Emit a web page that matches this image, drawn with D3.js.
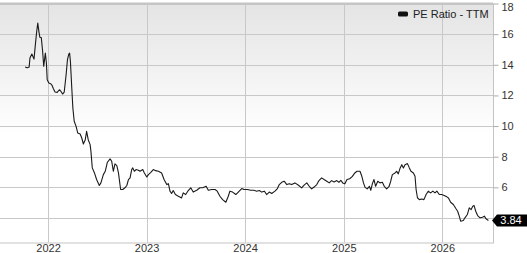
<!DOCTYPE html>
<html>
<head>
<meta charset="utf-8">
<script src="https://cdn.jsdelivr.net/npm/d3@7"></script>
<style>
  body { margin: 0; background: #fff; }
  svg text { font-family: "Liberation Sans", Arial, sans-serif; }
</style>
</head>
<body>
<svg id="chart"></svg>
<script>
// PE Ratio (TTM) series
const dates = [
  "2021-10-08","2021-10-16","2021-10-23","2021-10-26","2021-11-02","2021-11-10","2021-11-15","2021-11-20","2021-11-24","2021-11-29",
  "2021-12-02","2021-12-07","2021-12-12","2021-12-16","2021-12-22","2021-12-26","2021-12-29","2022-01-04","2022-01-11","2022-01-16",
  "2022-01-21","2022-01-27","2022-02-04","2022-02-12","2022-02-18","2022-02-24","2022-03-02","2022-03-09","2022-03-14","2022-03-19",
  "2022-03-22","2022-03-25","2022-03-30","2022-04-03","2022-04-08","2022-04-15","2022-04-21","2022-04-30","2022-05-06","2022-05-12",
  "2022-05-19","2022-05-24","2022-05-30","2022-06-06","2022-06-09","2022-06-14","2022-06-22","2022-06-30","2022-07-10","2022-07-16",
  "2022-07-25","2022-08-01","2022-08-09","2022-08-19","2022-08-25","2022-08-31","2022-09-06","2022-09-13","2022-09-19","2022-09-27",
  "2022-10-05","2022-10-13","2022-10-20","2022-10-26","2022-11-01","2022-11-07","2022-11-11","2022-11-17","2022-11-23","2022-12-02",
  "2022-12-08","2022-12-18","2022-12-24","2023-01-02","2023-01-08","2023-01-17","2023-01-26","2023-02-04","2023-02-14","2023-02-26",
  "2023-03-07","2023-03-17","2023-03-23","2023-03-29","2023-04-04","2023-04-10","2023-04-18","2023-04-29","2023-05-11","2023-05-17",
  "2023-05-26","2023-06-03","2023-06-14","2023-06-23","2023-07-06","2023-07-18","2023-07-28","2023-08-10","2023-08-18","2023-08-31",
  "2023-09-12","2023-09-20","2023-09-30","2023-10-10","2023-10-22","2023-10-31","2023-11-06","2023-11-16","2023-11-28","2023-12-07",
  "2023-12-20","2023-12-28","2024-01-10","2024-01-22","2024-02-03","2024-02-13","2024-02-23","2024-03-03","2024-03-13","2024-03-21",
  "2024-03-31","2024-04-09","2024-04-21","2024-04-30","2024-05-07","2024-05-16","2024-05-25","2024-06-04","2024-06-13","2024-06-22",
  "2024-07-04","2024-07-17","2024-07-29","2024-08-07","2024-08-17","2024-08-26","2024-09-04","2024-09-13","2024-09-23","2024-10-01",
  "2024-10-11","2024-10-20","2024-10-30","2024-11-08","2024-11-17","2024-11-26","2024-12-06","2024-12-14","2024-12-21","2024-12-28",
  "2025-01-05","2025-01-13","2025-01-23","2025-02-02","2025-02-11","2025-02-19","2025-03-02","2025-03-09","2025-03-15","2025-03-21",
  "2025-03-29","2025-04-06","2025-04-11","2025-04-17","2025-04-23","2025-04-29","2025-05-07","2025-05-15","2025-05-24","2025-05-31",
  "2025-06-09","2025-06-18","2025-06-24","2025-06-30","2025-07-10","2025-07-16","2025-07-22","2025-07-29","2025-08-04","2025-08-10",
  "2025-08-16","2025-08-25","2025-09-01","2025-09-07","2025-09-16","2025-09-22","2025-09-26","2025-10-01","2025-10-08","2025-10-17",
  "2025-10-25","2025-11-02","2025-11-10","2025-11-19","2025-11-27","2025-12-05","2025-12-12","2025-12-21","2025-12-30","2026-01-08",
  "2026-01-18","2026-01-24","2026-02-01","2026-02-11","2026-02-21","2026-02-27","2026-03-05","2026-03-10","2026-03-20","2026-03-26",
  "2026-04-04","2026-04-11","2026-04-18","2026-04-24","2026-04-29","2026-05-05","2026-05-12","2026-05-21","2026-05-30","2026-06-06",
  "2026-06-12","2026-06-21"
];
const peValues = [
  13.85,13.8,13.85,14.44,14.7,14.37,15.3,16.17,16.72,16.07,
  15.78,15.78,14.87,13.9,14.77,14.1,13.02,12.81,12.76,12.65,
  12.44,12.22,12.2,12.37,12.26,12.09,12.22,13.35,14.33,14.7,
  14.76,14.2,12.48,11.18,10.31,9.98,9.55,9.48,9.22,8.83,
  9.11,9.66,9.11,8.79,8.35,7.27,6.94,6.51,6.12,6.29,
  6.83,7.05,7.64,7.86,7.7,7.05,7.53,7.42,6.94,5.86,
  5.86,5.97,6.12,6.51,6.62,7.16,7.27,7.05,7.16,7.12,
  7.05,7.16,6.94,6.68,6.83,6.98,7.16,7.09,7.05,6.94,
  6.51,6.18,6.24,5.75,5.6,5.79,5.53,5.42,5.31,5.64,
  5.53,5.75,5.97,5.69,5.81,5.97,5.97,6.07,5.81,5.86,
  5.86,5.75,5.42,5.2,5.03,5.42,5.75,5.69,5.53,5.69,
  5.92,5.86,5.86,5.81,5.81,5.75,5.79,5.69,5.75,5.53,
  5.69,5.6,5.75,5.92,6.18,6.33,6.4,6.18,6.24,6.18,
  6.29,6.14,5.97,6.14,6.29,6.07,5.9,6.02,6.18,6.44,
  6.62,6.51,6.4,6.29,6.44,6.35,6.44,6.33,6.46,6.29,
  6.23,6.51,6.56,6.72,6.94,7.05,7.05,6.72,6.29,6.0,
  5.9,6.07,5.81,6.24,6.51,6.07,6.4,6.29,6.33,6.07,
  5.9,6.07,6.4,6.83,6.94,7.05,6.88,7.27,7.48,7.27,
  7.48,7.55,7.27,7.05,6.94,6.72,5.86,5.32,5.2,5.24,
  5.2,5.53,5.75,5.64,5.75,5.64,5.75,5.53,5.53,5.47,
  5.38,5.31,5.03,4.88,4.6,4.44,4.12,3.79,3.84,4.01,
  4.23,4.66,4.55,4.77,4.81,4.44,4.16,4.01,4.05,4.12,
  3.95,3.84
];
const yTicks = [4, 6, 8, 10, 12, 14, 16, 18];
const xTickYears = [2022, 2023, 2024, 2025, 2026];
const xDomain = ["2021-07-07", "2026-07-08"];
const yDomain = [2.4, 18];
const seriesName = "PE Ratio - TTM";
const lastLabel = "3.84";

const width = 527, height = 253;
const plot = {left: 0, right: 493, top: 3.5, bottom: 242.5};
const parse = d3.timeParse("%Y-%m-%d");

const data = dates.map((d, i) => ({date: parse(d), value: peValues[i]}));

const svg = d3.select("#chart").attr("width", width).attr("height", height);

const x = d3.scaleTime()
    .domain(xDomain.map(parse))
    .range([plot.left, plot.right]);
const y = d3.scaleLinear()
    .domain(yDomain)
    .range([plot.bottom, plot.top]);

// background gradient
const grad = svg.append("defs").append("linearGradient")
    .attr("id", "bg").attr("x1", 0).attr("y1", 0).attr("x2", 0).attr("y2", 1);
grad.append("stop").attr("offset", "0%").attr("stop-color", "#e4e4e4");
grad.append("stop").attr("offset", "55%").attr("stop-color", "#ffffff");
grad.append("stop").attr("offset", "100%").attr("stop-color", "#ffffff");

svg.append("rect")
    .attr("x", plot.left).attr("y", plot.top)
    .attr("width", plot.right - plot.left).attr("height", plot.bottom - plot.top)
    .attr("fill", "url(#bg)");

// gridlines
const grid = svg.append("g").attr("stroke", "#c8c8c8").attr("stroke-width", 1);
grid.selectAll(".hgrid")
    .data(yTicks)
    .join("line")
    .attr("x1", plot.left).attr("x2", plot.right)
    .attr("y1", d => Math.round(y(d)) + 0.5).attr("y2", d => Math.round(y(d)) + 0.5);
grid.selectAll(".vgrid")
    .data(xTickYears)
    .join("line")
    .attr("x1", d => Math.round(x(new Date(d, 0, 1))) + 0.5)
    .attr("x2", d => Math.round(x(new Date(d, 0, 1))) + 0.5)
    .attr("y1", plot.top).attr("y2", plot.bottom);

// frame
svg.append("line")
    .attr("x1", plot.left).attr("x2", plot.right)
    .attr("y1", plot.top).attr("y2", plot.top)
    .attr("stroke", "#c4c4c4").attr("stroke-width", 2);
svg.append("line")
    .attr("x1", plot.left).attr("x2", plot.right)
    .attr("y1", plot.bottom + 0.5).attr("y2", plot.bottom + 0.5)
    .attr("stroke", "#c4c4c4");

const last = data[data.length - 1];

// right y axis (the "4" label sits under the last-value tag, as in the reference)
const yAxis = d3.axisRight(y)
    .tickValues(yTicks)
    .tickSize(5)
    .tickPadding(3)
    .tickFormat(d => Math.abs(y(d) - y(last.value)) < 12 ? "" : d3.format("d")(d));
const yAxisG = svg.append("g")
    .attr("transform", `translate(${plot.right + 0.5},0)`)
    .call(yAxis);
yAxisG.select(".domain").attr("stroke", "#c4c4c4").attr("d", `M0,${plot.top}V${plot.bottom + 1}`);
yAxisG.selectAll(".tick line").attr("stroke", "#aaa");
yAxisG.selectAll(".tick text")
    .attr("fill", "#333")
    .style("font-size", "11px");
// keep the top label inside the picture
yAxisG.selectAll(".tick text")
    .filter(d => d === yDomain[1])
    .attr("dy", "0.6em");

// bottom x axis labels
const xAxis = d3.axisBottom(x)
    .tickValues(xTickYears.map(yr => new Date(yr, 0, 1)))
    .tickSize(0)
    .tickPadding(2)
    .tickFormat(d3.timeFormat("%Y"));
const xAxisG = svg.append("g")
    .attr("transform", `translate(0,${plot.bottom})`)
    .call(xAxis);
xAxisG.select(".domain").remove();
xAxisG.selectAll(".tick text")
    .attr("fill", "#333")
    .style("font-size", "11px");

// line
const line = d3.line()
    .x(d => x(d.date))
    .y(d => y(d.value));
svg.append("path")
    .datum(data)
    .attr("fill", "none")
    .attr("stroke", "#1a1a1a")
    .attr("stroke-width", 1.1)
    .attr("stroke-linejoin", "round")
    .attr("d", line);

// legend
const legend = svg.append("g").attr("transform", "translate(398,14)");
legend.append("rect")
    .attr("x", 0).attr("y", -2.5)
    .attr("width", 10).attr("height", 5)
    .attr("rx", 1.5)
    .attr("fill", "#111");
legend.append("text")
    .attr("x", 15).attr("y", 0)
    .attr("dy", "0.35em")
    .attr("fill", "#222")
    .style("font-size", "11px")
    .text(seriesName);

// last value tag
const ty = y(last.value);
const tag = svg.append("g").attr("transform", `translate(${plot.right - 1},${ty})`);
tag.append("path")
    .attr("d", "M0,0 L5,-6 L35,-6 L35,6 L5,6 Z")
    .attr("fill", "#000");
tag.append("text")
    .attr("x", 19).attr("y", 0)
    .attr("dy", "0.35em")
    .attr("text-anchor", "middle")
    .attr("fill", "#fff")
    .style("font-size", "11px")
    .text(lastLabel);
</script>
</body>
</html>
